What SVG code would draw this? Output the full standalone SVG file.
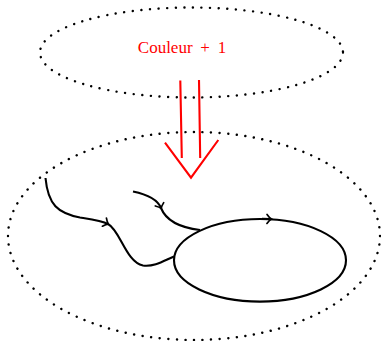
<svg xmlns="http://www.w3.org/2000/svg" width="381" height="341" viewBox="0 0 381 341">
<defs>
<style>
.dot{fill:none;stroke:#000;stroke-width:2.4;stroke-linecap:round;stroke-dasharray:0.1 8.5}
.ln{fill:none;stroke:#000;stroke-width:2.1}
.red{fill:none;stroke:#ff0000;stroke-width:2.1}
.lbl{font-family:"Liberation Serif","DejaVu Serif",serif;font-size:17px;word-spacing:3.5px;fill:#ff0000}
</style>
<marker id="to" viewBox="-6 -6 10 12" markerWidth="10" markerHeight="12" refX="0" refY="0" orient="auto" markerUnits="userSpaceOnUse">
<path d="M-4,-4.5 Q-1.5,-1 0.5,0 Q-1.5,1 -4,4.5" fill="none" stroke="#000" stroke-width="1.7" stroke-linecap="round"/>
</marker>
</defs>
<g id="top">
<ellipse class="dot" cx="191.5" cy="52.5" rx="151.5" ry="45"/>
<text class="lbl" x="182" y="52.5" text-anchor="middle">Couleur + 1</text>
</g>
<g id="bottom">
<ellipse class="dot" cx="194" cy="236" rx="186" ry="104"/>
</g>
<g id="cycle">
<ellipse class="ln" cx="260" cy="260.3" rx="86" ry="41.3"/>
<path class="ln" d="M262,218.9 L271,219" marker-end="url(#to)"/>
</g>
<g id="connectors">
<path class="red" d="M180.3,80.5 L181.8,158 M199,80 L200.2,158 M165,142.7 L191,177.7 L218.3,140"/>
<path class="ln" d="M45.5,178 C48,205 58,213 80,217.5 C95,220 102,221 108,224" marker-end="url(#to)"/>
<path class="ln" d="M108,224 C120,230 126,262 143,265.5 C155,267 165,260 174,256.5"/>
<path class="ln" d="M133,191.5 C145,194 157,198 161,208" marker-end="url(#to)"/>
<path class="ln" d="M161,208 C165,218 175,227 200,230"/>
</g>
</svg>
